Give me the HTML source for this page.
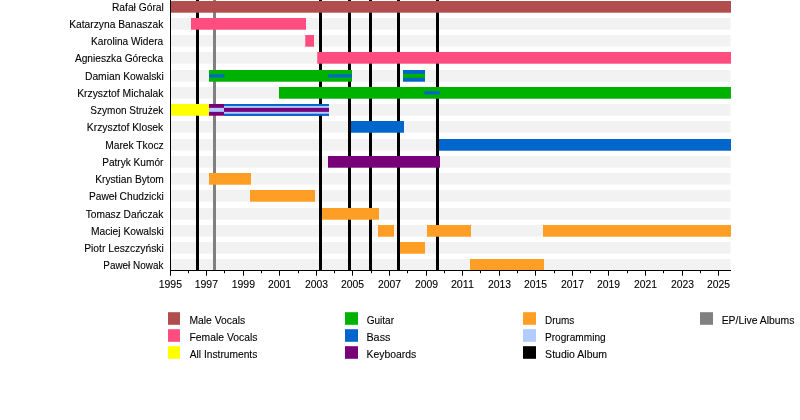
<!DOCTYPE html>
<html lang="pl"><head><meta charset="utf-8"><title>Timeline</title>
<style>
html,body{margin:0;padding:0;background:#fff}
svg{display:block}
text{font-family:"Liberation Sans",sans-serif;font-size:10.8px;fill:#000;stroke:#000;stroke-width:0.1px}
</style></head><body>
<svg width="800" height="420" viewBox="0 0 800 420">
<rect width="800" height="420" fill="#fff"/>
<g fill="#f2f2f2">
<rect x="171" y="18.00" width="559.5" height="11.7"/>
<rect x="171" y="35.00" width="559.5" height="11.7"/>
<rect x="171" y="52.00" width="559.5" height="11.7"/>
<rect x="171" y="70.00" width="559.5" height="11.7"/>
<rect x="171" y="87.00" width="559.5" height="11.7"/>
<rect x="171" y="104.00" width="559.5" height="11.7"/>
<rect x="171" y="121.00" width="559.5" height="11.7"/>
<rect x="171" y="139.00" width="559.5" height="11.7"/>
<rect x="171" y="156.00" width="559.5" height="11.7"/>
<rect x="171" y="173.00" width="559.5" height="11.7"/>
<rect x="171" y="190.00" width="559.5" height="11.7"/>
<rect x="171" y="208.00" width="559.5" height="11.7"/>
<rect x="171" y="225.00" width="559.5" height="11.7"/>
<rect x="171" y="242.00" width="559.5" height="11.7"/>
<rect x="171" y="259.00" width="559.5" height="11.7"/>
</g>
<rect x="196" y="0" width="3" height="270" fill="#000"/>
<rect x="213" y="0" width="3" height="270" fill="#808080"/>
<rect x="319" y="0" width="3" height="270" fill="#000"/>
<rect x="348" y="0" width="3" height="270" fill="#000"/>
<rect x="369" y="0" width="3" height="270" fill="#000"/>
<rect x="397" y="0" width="3" height="270" fill="#000"/>
<rect x="436" y="0" width="3" height="270" fill="#000"/>
<rect x="171" y="1.00" width="560.00" height="11.7" fill="#b24d4d"/>
<rect x="191" y="18.00" width="115.00" height="11.7" fill="#ff4d80"/>
<rect x="305.25" y="35.00" width="8.75" height="11.7" fill="#ff4d80"/>
<rect x="317.25" y="52.00" width="413.75" height="11.7" fill="#ff4d80"/>
<rect x="209" y="70.00" width="143.00" height="11.7" fill="#00b200"/>
<rect x="209" y="74.25" width="15.40" height="3.2" fill="#0066cc"/>
<rect x="328" y="74.25" width="24.00" height="3.2" fill="#0066cc"/>
<rect x="403" y="70.00" width="22.00" height="11.7" fill="#0066cc"/>
<rect x="403" y="73.85" width="22.00" height="4" fill="#00b200"/>
<rect x="279" y="87.00" width="452.00" height="11.7" fill="#00b200"/>
<rect x="424.3" y="91.25" width="15.50" height="3.2" fill="#0066cc"/>
<rect x="171" y="104.00" width="38.00" height="11.7" fill="#ffff00"/>
<rect x="209" y="104.00" width="120.00" height="11.7" fill="#780078"/>
<rect x="224" y="104.00" width="105.00" height="11.7" fill="#0066cc"/>
<rect x="224" y="105.95" width="105.00" height="7.8" fill="#b2ccff"/>
<rect x="209" y="107.85" width="15.00" height="4" fill="#b2ccff"/>
<rect x="224" y="107.85" width="105.00" height="4" fill="#780078"/>
<rect x="351" y="121.00" width="53.00" height="11.7" fill="#0066cc"/>
<rect x="439" y="139.00" width="292.00" height="11.7" fill="#0066cc"/>
<rect x="328" y="156.00" width="112.00" height="11.7" fill="#780078"/>
<rect x="209" y="173.00" width="42.00" height="11.7" fill="#ff9e24"/>
<rect x="250" y="190.00" width="65.00" height="11.7" fill="#ff9e24"/>
<rect x="322" y="208.00" width="57.00" height="11.7" fill="#ff9e24"/>
<rect x="378" y="225.00" width="16.00" height="11.7" fill="#ff9e24"/>
<rect x="427" y="225.00" width="44.00" height="11.7" fill="#ff9e24"/>
<rect x="543" y="225.00" width="188.00" height="11.7" fill="#ff9e24"/>
<rect x="400" y="242.00" width="25.00" height="11.7" fill="#ff9e24"/>
<rect x="470" y="259.00" width="74.00" height="11.7" fill="#ff9e24"/>
<rect x="170" y="0" width="1" height="271" fill="#000"/>
<rect x="170" y="270" width="561" height="1" fill="#000"/>
<rect x="170" y="270" width="1" height="5.7" fill="#000"/>
<rect x="188" y="270" width="1" height="3.2" fill="#000"/>
<rect x="206" y="270" width="1" height="5.7" fill="#000"/>
<rect x="224" y="270" width="1" height="3.2" fill="#000"/>
<rect x="243" y="270" width="1" height="5.7" fill="#000"/>
<rect x="261" y="270" width="1" height="3.2" fill="#000"/>
<rect x="279" y="270" width="1" height="5.7" fill="#000"/>
<rect x="298" y="270" width="1" height="3.2" fill="#000"/>
<rect x="316" y="270" width="1" height="5.7" fill="#000"/>
<rect x="334" y="270" width="1" height="3.2" fill="#000"/>
<rect x="352" y="270" width="1" height="5.7" fill="#000"/>
<rect x="371" y="270" width="1" height="3.2" fill="#000"/>
<rect x="389" y="270" width="1" height="5.7" fill="#000"/>
<rect x="407" y="270" width="1" height="3.2" fill="#000"/>
<rect x="426" y="270" width="1" height="5.7" fill="#000"/>
<rect x="444" y="270" width="1" height="3.2" fill="#000"/>
<rect x="462" y="270" width="1" height="5.7" fill="#000"/>
<rect x="480" y="270" width="1" height="3.2" fill="#000"/>
<rect x="499" y="270" width="1" height="5.7" fill="#000"/>
<rect x="517" y="270" width="1" height="3.2" fill="#000"/>
<rect x="535" y="270" width="1" height="5.7" fill="#000"/>
<rect x="554" y="270" width="1" height="3.2" fill="#000"/>
<rect x="572" y="270" width="1" height="5.7" fill="#000"/>
<rect x="590" y="270" width="1" height="3.2" fill="#000"/>
<rect x="608" y="270" width="1" height="5.7" fill="#000"/>
<rect x="627" y="270" width="1" height="3.2" fill="#000"/>
<rect x="645" y="270" width="1" height="5.7" fill="#000"/>
<rect x="663" y="270" width="1" height="3.2" fill="#000"/>
<rect x="682" y="270" width="1" height="5.7" fill="#000"/>
<rect x="700" y="270" width="1" height="3.2" fill="#000"/>
<rect x="718" y="270" width="1" height="5.7" fill="#000"/>
<g>
<text transform="translate(158.68,288.30) scale(0.9725,1)">1995</text>
<text transform="translate(194.68,288.30) scale(0.9725,1)">1997</text>
<text transform="translate(231.68,288.30) scale(0.9725,1)">1999</text>
<text transform="translate(267.93,288.30) scale(0.9622,1)">2001</text>
<text transform="translate(304.93,288.30) scale(0.9622,1)">2003</text>
<text transform="translate(340.93,288.30) scale(0.9622,1)">2005</text>
<text transform="translate(377.93,288.30) scale(0.9622,1)">2007</text>
<text transform="translate(414.93,288.30) scale(0.9622,1)">2009</text>
<text transform="translate(450.91,288.30) scale(0.9939,1)">2011</text>
<text transform="translate(487.93,288.30) scale(0.9622,1)">2013</text>
<text transform="translate(523.93,288.30) scale(0.9622,1)">2015</text>
<text transform="translate(560.93,288.30) scale(0.9622,1)">2017</text>
<text transform="translate(596.93,288.30) scale(0.9622,1)">2019</text>
<text transform="translate(633.93,288.30) scale(0.9622,1)">2021</text>
<text transform="translate(670.93,288.30) scale(0.9622,1)">2023</text>
<text transform="translate(706.93,288.30) scale(0.9622,1)">2025</text>
</g>
<g>
<text transform="translate(111.97,10.80) scale(0.9506,1)">Rafał Góral</text>
<text transform="translate(69.17,27.80) scale(0.9516,1)">Katarzyna Banaszak</text>
<text transform="translate(90.98,44.80) scale(0.9414,1)">Karolina Widera</text>
<text transform="translate(74.90,61.80) scale(0.9428,1)">Agnieszka Górecka</text>
<text transform="translate(84.96,79.80) scale(0.9527,1)">Damian Kowalski</text>
<text transform="translate(77.16,96.80) scale(0.9589,1)">Krzysztof Michalak</text>
<text transform="translate(90.34,113.80) scale(0.9288,1)">Szymon Strużek</text>
<text transform="translate(86.86,130.80) scale(0.9582,1)">Krzysztof Klosek</text>
<text transform="translate(105.17,148.80) scale(0.9512,1)">Marek Tkocz</text>
<text transform="translate(102.18,165.80) scale(0.9361,1)">Patryk Kumór</text>
<text transform="translate(95.17,182.80) scale(0.9473,1)">Krystian Bytom</text>
<text transform="translate(88.97,199.80) scale(0.9463,1)">Paweł Chudzicki</text>
<text transform="translate(85.67,217.80) scale(0.9441,1)">Tomasz Dańczak</text>
<text transform="translate(90.97,234.80) scale(0.9506,1)">Maciej Kowalski</text>
<text transform="translate(84.16,251.80) scale(0.9567,1)">Piotr Leszczyński</text>
<text transform="translate(103.30,268.80) scale(0.9190,1)">Paweł Nowak</text>
</g>
<rect x="168.0" y="312.20" width="12" height="12.6" fill="#b24d4d"/>
<text transform="translate(189.46,323.80) scale(0.9588,1)">Male Vocals</text>
<rect x="168.0" y="329.20" width="12" height="12.6" fill="#ff4d80"/>
<text transform="translate(189.46,340.80) scale(0.9602,1)">Female Vocals</text>
<rect x="168.0" y="346.20" width="12" height="12.6" fill="#ffff00"/>
<text transform="translate(189.80,357.80) scale(0.9459,1)">All Instruments</text>
<rect x="345" y="312.20" width="13" height="12.6" fill="#00b200"/>
<text transform="translate(366.64,323.80) scale(0.9332,1)">Guitar</text>
<rect x="345" y="329.20" width="13" height="12.6" fill="#0066cc"/>
<text transform="translate(366.42,340.80) scale(1.0008,1)">Bass</text>
<rect x="345" y="346.20" width="13" height="12.6" fill="#780078"/>
<text transform="translate(366.45,357.80) scale(0.9659,1)">Keyboards</text>
<rect x="523" y="312.20" width="13" height="12.6" fill="#ff9e24"/>
<text transform="translate(544.99,323.80) scale(0.9232,1)">Drums</text>
<rect x="523" y="329.20" width="13" height="12.6" fill="#b2ccff"/>
<text transform="translate(544.98,340.80) scale(0.9369,1)">Programming</text>
<rect x="523" y="346.20" width="13" height="12.6" fill="#000"/>
<text transform="translate(545.12,357.80) scale(0.9752,1)">Studio Album</text>
<rect x="700" y="312.20" width="13" height="12.6" fill="#808080"/>
<text transform="translate(721.65,323.80) scale(0.9627,1)">EP/Live Albums</text>
</svg>
</body></html>
